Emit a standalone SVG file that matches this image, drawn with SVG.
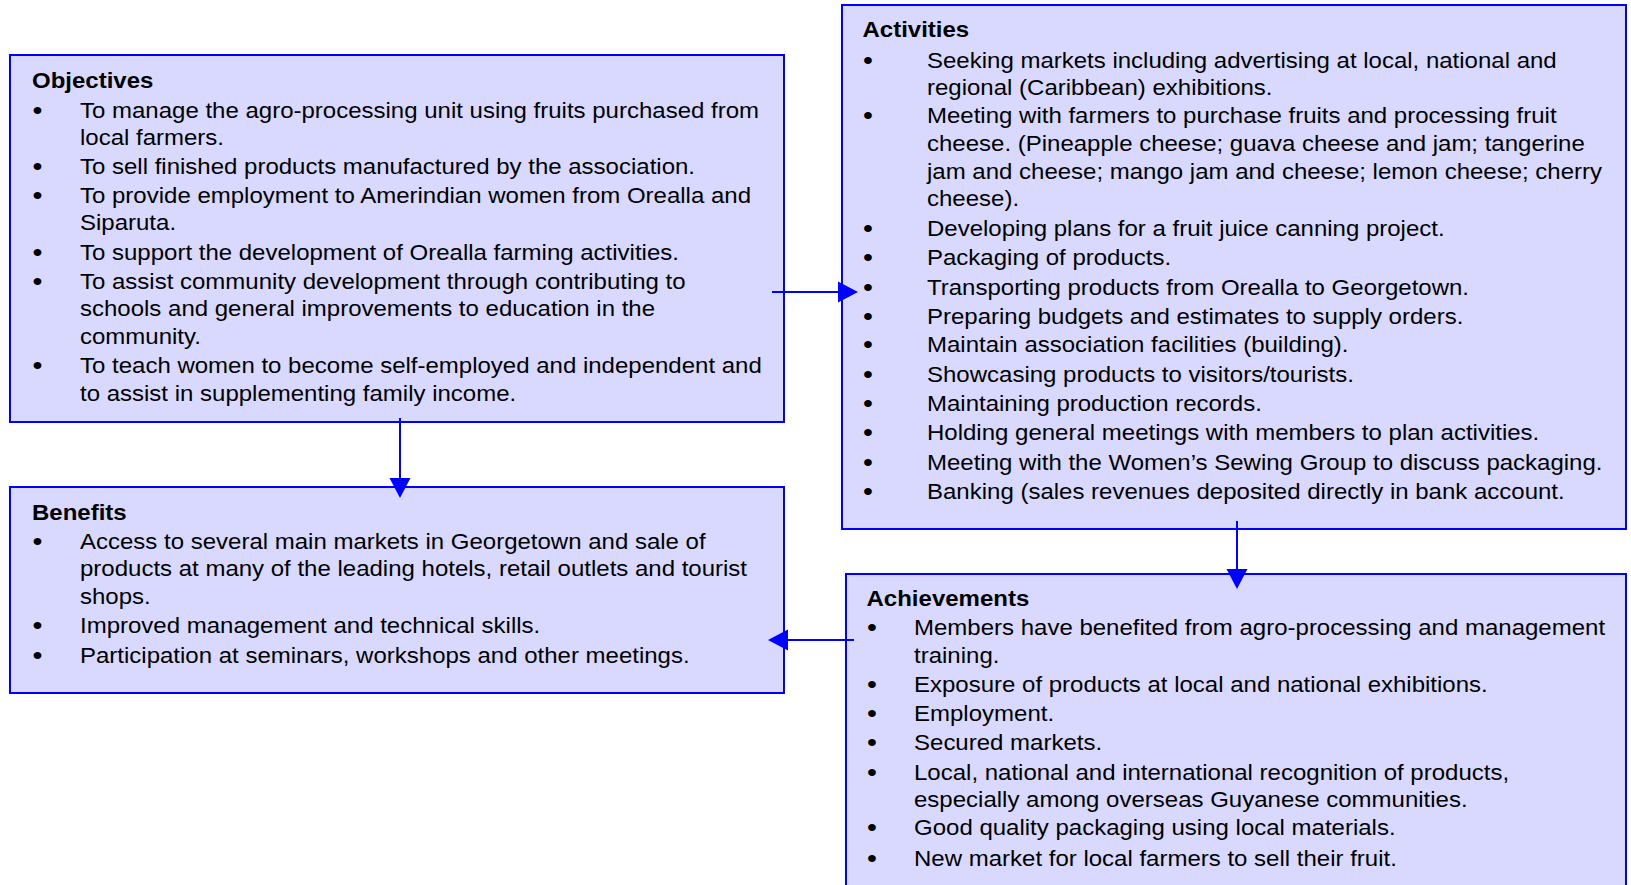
<svg xmlns="http://www.w3.org/2000/svg" width="1631" height="885" viewBox="0 0 1631 885">
  <defs>
    <style>
      .box { fill: #D9D9FF; stroke: #0000FF; stroke-width: 2; }
      .txt { font-family: "Liberation Sans", Arial, sans-serif; font-size: 22px; fill: #000; }
      .ttl { font-weight: bold; }
      .bul { text-anchor: middle; font-size: 26px; }
      .conn { stroke: #0000FF; stroke-width: 2; fill: none; }
      .head { fill: #0000FF; }
    </style>
  </defs>
  <rect width="1631" height="885" fill="#FFFFFF"/>

  <!-- Objectives -->
  <g id="objectives">
    <rect class="box" x="10" y="55" width="774" height="367"/>
    <g class="txt" transform="translate(0 1) scale(1.0915 1)">
      <text class="ttl" x="29.3" y="87">Objectives</text>
      <text class="bul" x="34.4" y="118">•</text>
      <text x="73.3" y="117">To manage the agro-processing unit using fruits purchased from</text>
      <text x="73.3" y="144">local farmers.</text>
      <text class="bul" x="34.4" y="174">•</text>
      <text x="73.3" y="173">To sell finished products manufactured by the association.</text>
      <text class="bul" x="34.4" y="203">•</text>
      <text x="73.3" y="202">To provide employment to Amerindian women from Orealla and</text>
      <text x="73.3" y="229">Siparuta.</text>
      <text class="bul" x="34.4" y="260">•</text>
      <text x="73.3" y="259">To support the development of Orealla farming activities.</text>
      <text class="bul" x="34.4" y="289">•</text>
      <text x="73.3" y="288">To assist community development through contributing to</text>
      <text x="73.3" y="315">schools and general improvements to education in the</text>
      <text x="73.3" y="343">community.</text>
      <text class="bul" x="34.4" y="373">•</text>
      <text x="73.3" y="372">To teach women to become self-employed and independent and</text>
      <text x="73.3" y="400">to assist in supplementing family income.</text>
    </g>
  </g>

  <!-- Activities -->
  <g id="activities">
    <rect class="box" x="842" y="5" width="784" height="524"/>
    <g class="txt" transform="translate(0 1) scale(1.0915 1)">
      <text class="ttl" x="790.2" y="36.5">Activities</text>
      <text class="bul" x="795.2" y="68">•</text>
      <text x="849.3" y="67">Seeking markets including advertising at local, national and</text>
      <text x="849.3" y="94">regional (Caribbean) exhibitions.</text>
      <text class="bul" x="795.2" y="123.5">•</text>
      <text x="849.3" y="122.5">Meeting with farmers to purchase fruits and processing fruit</text>
      <text x="849.3" y="150.5">cheese. (Pineapple cheese; guava cheese and jam; tangerine</text>
      <text x="849.3" y="178.5">jam and cheese; mango jam and cheese; lemon cheese; cherry</text>
      <text x="849.3" y="205.5">cheese).</text>
      <text class="bul" x="795.2" y="236">•</text>
      <text x="849.3" y="235">Developing plans for a fruit juice canning project.</text>
      <text class="bul" x="795.2" y="265">•</text>
      <text x="849.3" y="264">Packaging of products.</text>
      <text class="bul" x="795.2" y="295">•</text>
      <text x="849.3" y="294">Transporting products from Orealla to Georgetown.</text>
      <text class="bul" x="795.2" y="324">•</text>
      <text x="849.3" y="323">Preparing budgets and estimates to supply orders.</text>
      <text class="bul" x="795.2" y="352">•</text>
      <text x="849.3" y="351">Maintain association facilities (building).</text>
      <text class="bul" x="795.2" y="382">•</text>
      <text x="849.3" y="381">Showcasing products to visitors/tourists.</text>
      <text class="bul" x="795.2" y="411.5">•</text>
      <text x="849.3" y="410.5">Maintaining production records.</text>
      <text class="bul" x="795.2" y="440.5">•</text>
      <text x="849.3" y="439.5">Holding general meetings with members to plan activities.</text>
      <text class="bul" x="795.2" y="470">•</text>
      <text x="849.3" y="469">Meeting with the Women’s Sewing Group to discuss packaging.</text>
      <text class="bul" x="795.2" y="499">•</text>
      <text x="849.3" y="498">Banking (sales revenues deposited directly in bank account.</text>
    </g>
  </g>

  <!-- Benefits -->
  <g id="benefits">
    <rect class="box" x="10" y="487" width="774" height="206"/>
    <g class="txt" transform="translate(0 1) scale(1.0915 1)">
      <text class="ttl" x="29.3" y="519">Benefits</text>
      <text class="bul" x="34.4" y="549">•</text>
      <text x="73.3" y="548">Access to several main markets in Georgetown and sale of</text>
      <text x="73.3" y="575">products at many of the leading hotels, retail outlets and tourist</text>
      <text x="73.3" y="603">shops.</text>
      <text class="bul" x="34.4" y="633">•</text>
      <text x="73.3" y="632">Improved management and technical skills.</text>
      <text class="bul" x="34.4" y="663">•</text>
      <text x="73.3" y="662">Participation at seminars, workshops and other meetings.</text>
    </g>
  </g>

  <!-- Achievements -->
  <g id="achievements">
    <rect class="box" x="846" y="574" width="780" height="320"/>
    <g class="txt" transform="translate(0 1) scale(1.0915 1)">
      <text class="ttl" x="793.9" y="605">Achievements</text>
      <text class="bul" x="798.9" y="635">•</text>
      <text x="837.4" y="634">Members have benefited from agro-processing and management</text>
      <text x="837.4" y="662">training.</text>
      <text class="bul" x="798.9" y="692.5">•</text>
      <text x="837.4" y="691.5">Exposure of products at local and national exhibitions.</text>
      <text class="bul" x="798.9" y="721.5">•</text>
      <text x="837.4" y="720.5">Employment.</text>
      <text class="bul" x="798.9" y="750.5">•</text>
      <text x="837.4" y="749.5">Secured markets.</text>
      <text class="bul" x="798.9" y="780">•</text>
      <text x="837.4" y="779">Local, national and international recognition of products,</text>
      <text x="837.4" y="806">especially among overseas Guyanese communities.</text>
      <text class="bul" x="798.9" y="835">•</text>
      <text x="837.4" y="834">Good quality packaging using local materials.</text>
      <text class="bul" x="798.9" y="866">•</text>
      <text x="837.4" y="865">New market for local farmers to sell their fruit.</text>
    </g>
  </g>

  <!-- Connectors -->
  <g id="connectors">
    <line class="conn" x1="772" y1="292" x2="840" y2="292"/>
    <polygon class="head" points="858,292 838,281.5 838,302.5"/>
    <line class="conn" x1="400" y1="418" x2="400" y2="480"/>
    <polygon class="head" points="400,498 389.5,478 410.5,478"/>
    <line class="conn" x1="1237" y1="521" x2="1237" y2="571"/>
    <polygon class="head" points="1237,589 1226.5,569 1247.5,569"/>
    <line class="conn" x1="854" y1="640" x2="786" y2="640"/>
    <polygon class="head" points="768,640 788,629.5 788,650.5"/>
  </g>
</svg>
